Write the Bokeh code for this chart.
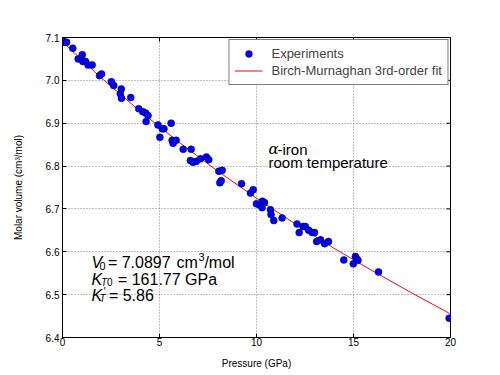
from bokeh.plotting import figure
from bokeh.models import (Label, Legend, LegendItem, FixedTicker,
                          PrintfTickFormatter)
from bokeh.embed import file_html
from bokeh.resources import INLINE

# ---- data ----
pressure = [0.00, 0.09, 0.21, 0.53, 0.81, 1.02, 1.05, 1.19, 1.32, 1.53,
            1.91, 2.01, 2.52, 2.64, 2.98, 3.03, 3.04, 3.52, 3.93, 4.14,
            4.28, 4.31, 4.41, 4.92, 5.02, 5.14, 5.23, 5.60, 5.65, 5.70,
            5.86, 6.22, 6.63, 6.59, 6.73, 6.90, 7.12, 7.42, 7.54, 8.06,
            8.23, 8.18, 8.11, 9.23, 9.69, 9.83, 10.00, 10.17, 10.30, 10.41,
            10.29, 10.72, 10.75, 10.89, 11.32, 12.09, 12.20, 12.40, 12.52, 12.69,
            12.87, 12.99, 13.10, 13.30, 13.51, 13.71, 14.50, 14.99, 15.10, 15.16,
            15.23, 16.29, 19.93]
volume = [7.095, 7.089, 7.089, 7.075, 7.050, 7.060, 7.044, 7.044, 7.036, 7.036,
          7.011, 7.015, 6.997, 6.988, 6.969, 6.980, 6.958, 6.960, 6.934, 6.927,
          6.924, 6.904, 6.918, 6.896, 6.867, 6.887, 6.887, 6.900, 6.860, 6.853,
          6.860, 6.839, 6.839, 6.813, 6.809, 6.811, 6.817, 6.821, 6.815, 6.788,
          6.790, 6.766, 6.761, 6.759, 6.737, 6.745, 6.712, 6.709, 6.718, 6.715,
          6.703, 6.698, 6.687, 6.673, 6.679, 6.665, 6.645, 6.659, 6.659, 6.650,
          6.645, 6.645, 6.624, 6.628, 6.619, 6.624, 6.581, 6.572, 6.589, 6.584,
          6.580, 6.553, 6.445]

fit_pressure = [0, 2, 4, 6, 8, 10, 12, 14, 16, 18, 20]
fit_volume = [7.0897, 7.0056, 6.9279, 6.8558, 6.7883, 6.7250, 6.6650, 6.6080,
              6.5550, 6.5040, 6.4550]

x_ticks = [0, 5, 10, 15, 20]
y_ticks = [6.4, 6.5, 6.6, 6.7, 6.8, 6.9, 7.0, 7.1]
X_MIN, X_MAX = 0, 20
Y_MIN, Y_MAX = 6.4, 7.1

FONT = "Liberation Sans"
W, H = 500, 375
BL, BR, BT, BB = 62, 50, 37, 38

p = figure(width=W, height=H, x_range=(X_MIN, X_MAX), y_range=(Y_MIN, Y_MAX),
           output_backend="svg", toolbar_location=None,
           min_border_left=BL, min_border_right=BR, min_border_top=BT,
           min_border_bottom=BB)
p.outline_line_color = "black"
p.outline_line_width = 1
p.background_fill_color = "white"

for ax in (p.xaxis[0], p.yaxis[0]):
    ax.major_tick_in = 4
    ax.major_tick_out = 0
    ax.minor_tick_in = 0
    ax.minor_tick_out = 0
    ax.axis_line_color = "black"
    ax.major_label_text_font = FONT
    ax.major_label_text_font_size = "10px"
    ax.major_label_text_color = "black"
    ax.axis_label_text_font = FONT
    ax.axis_label_text_font_size = "10px"
    ax.axis_label_text_font_style = "normal"
    ax.axis_label_text_color = "black"

p.xaxis.ticker = FixedTicker(ticks=x_ticks)
p.yaxis.ticker = FixedTicker(ticks=y_ticks)
p.yaxis.formatter = PrintfTickFormatter(format="%.1f")
p.xaxis.axis_label = "Pressure (GPa)"
p.yaxis.axis_label = "Molar volume (cm³/mol)"
p.xaxis.major_label_standoff = 0
p.xaxis.axis_label_standoff = 9
p.yaxis.major_label_standoff = 3
p.yaxis.axis_label_standoff = 19

# inward tick marks on the top and right frame edges (length ~4 px)
plot_w = W - BL - BR
plot_h = H - BT - BB
tx = 4 * (X_MAX - X_MIN) / plot_w
ty = 4 * (Y_MAX - Y_MIN) / plot_h
p.segment(x0=x_ticks, y0=[Y_MAX] * len(x_ticks), x1=x_ticks,
          y1=[Y_MAX - ty] * len(x_ticks), line_color="black", line_width=1)
p.segment(x0=[X_MAX] * len(y_ticks), y0=y_ticks, x1=[X_MAX - tx] * len(y_ticks),
          y1=y_ticks, line_color="black", line_width=1)

p.xgrid.ticker = FixedTicker(ticks=x_ticks)
p.ygrid.ticker = FixedTicker(ticks=y_ticks)
for g in (p.xgrid[0], p.ygrid[0]):
    g.grid_line_color = "#808080"
    g.grid_line_dash = "1 2"
    g.grid_line_width = 1

r_line = p.line(fit_pressure, fit_volume, line_color="#ff0000", line_width=1)
r_pts = p.scatter(pressure, volume, size=7, fill_color="#0000ff",
                  line_color="#000033", line_width=0.5)

legend = Legend(items=[LegendItem(label="Experiments", renderers=[r_pts]),
                       LegendItem(label="Birch-Murnaghan 3rd-order fit", renderers=[r_line])],
                location="top_right", margin=2, padding=5, spacing=0,
                glyph_width=28, glyph_height=17, label_height=17, label_standoff=9,
                label_text_font=FONT, label_text_font_size="13px",
                border_line_color="black", border_line_width=1,
                background_fill_color="white", background_fill_alpha=1)
p.add_layout(legend)


def txt(x, y, s, dx=0, dy=0, size="16px", style="normal", font=FONT):
    p.add_layout(Label(x=x, y=y, text=s, x_offset=dx, y_offset=dy,
                       text_font=font, text_font_size=size, text_font_style=style,
                       text_baseline="alphabetic", text_align="left",
                       text_color="black"))


# alpha-iron annotation
ax0, ay0 = 10.62, 6.839
txt(ax0, ay0, "α", style="italic", font="DejaVu Serif", size="15px")
txt(ax0, ay0, "-iron", dx=9, size="15px")
txt(ax0, 6.8075, "room temperature", size="15px")

# fitted parameters
bx = 1.49
y1, y2, y3 = 6.5748, 6.5359, 6.4974
txt(bx, y1, "V", style="italic")
txt(bx, y1, "0", dx=8, dy=-3, size="11px")
txt(bx, y1, "= 7.0897", dx=16.5)
txt(bx, y1, "cm", dx=85)
txt(bx, y1, "3", dx=107, dy=6, size="11px")
txt(bx, y1, "/mol", dx=113)

txt(bx, y2, "K", style="italic")
txt(bx, y2, "T", dx=9.5, dy=-3, size="10px", style="italic")
txt(bx, y2, "0", dx=15.5, dy=-3, size="10px")
txt(bx, y2, "= 161.77 GPa", dx=26.5)

txt(bx, y3, "K", style="italic")
txt(bx, y3, "′", dx=11.5, dy=5, size="11px", style="italic")
txt(bx, y3, "T", dx=8, dy=-3, size="10px", style="italic")
txt(bx, y3, "= 5.86", dx=17.5)

open("out.html", "w").write(file_html(p, INLINE))
